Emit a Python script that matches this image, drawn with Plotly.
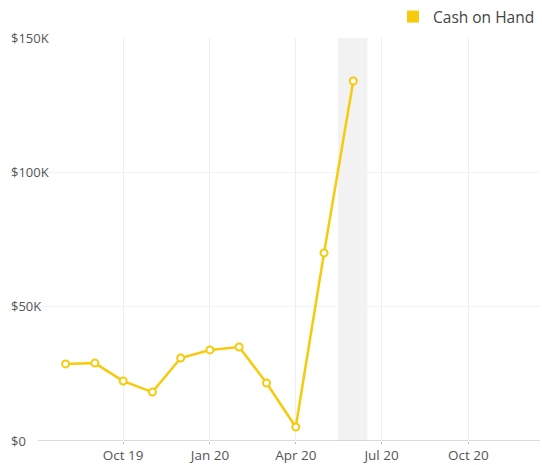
import plotly.graph_objects as go

months = ["2019-08-01", "2019-09-01", "2019-10-01", "2019-11-01", "2019-12-01",
          "2020-01-01", "2020-02-01", "2020-03-01", "2020-04-01", "2020-05-01", "2020-06-01"]
cash = [28700, 29000, 22300, 18200, 30900, 33900, 35000, 21600, 5200, 70000, 134000]

tick_vals = ["2019-10-01", "2020-01-01", "2020-04-01", "2020-07-01", "2020-10-01"]
tick_text = ["Oct 19", "Jan 20", "Apr 20", "Jul 20", "Oct 20"]
y_ticks = [0, 50000, 100000, 150000]
y_text = ["$0", "$50K", "$100K", "$150K"]

band = ["2020-05-16", "2020-06-16"]
x_range = ["2019-06-03", "2020-12-16"]

color = "#F5CB0C"
series_name = "Cash on Hand"

fig = go.Figure()
fig.add_trace(go.Scatter(
    x=months, y=cash, mode="lines+markers", name=series_name, showlegend=False,
    line=dict(color=color, width=2.5),
    marker=dict(symbol="circle", size=7, color="white", line=dict(color=color, width=2)),
))
# legend-only entry (square swatch)
fig.add_trace(go.Scatter(
    x=[None], y=[None], mode="markers", name=series_name,
    marker=dict(symbol="square", size=12, color=color),
))
fig.add_shape(type="rect", xref="x", yref="paper", x0=band[0], x1=band[1], y0=0, y1=1,
              fillcolor="#f2f2f2", line_width=0, layer="below")
fig.add_shape(type="line", xref="paper", yref="y", x0=28/530, x1=1, y0=0, y1=0,
              line=dict(color="#cfcfcf", width=1.5), layer="below")

fig.update_layout(
    width=542, height=465,
    margin=dict(l=10, r=2, t=38, b=24, autoexpand=False),
    paper_bgcolor="white", plot_bgcolor="white",
    font=dict(family="Open Sans, Arial, sans-serif", size=13, color="#555555"),
    showlegend=True,
    legend=dict(orientation="h", x=1, xanchor="right", y=1, yanchor="top",
                yref="container", font=dict(size=15.5, color="#444444"),
                itemsizing="constant", itemwidth=30, bgcolor="rgba(0,0,0,0)"),
    xaxis=dict(type="date", range=x_range, tickvals=tick_vals, ticktext=tick_text,
               tickfont=dict(size=13.5), automargin=False,
               showgrid=True, gridcolor="#eeeeee", gridwidth=1,
               ticks="outside", ticklen=2, tickcolor="#bbbbbb",
               showline=False, zeroline=False),
    yaxis=dict(range=[0, 150000], tickvals=y_ticks, ticktext=y_text,
               side="right", anchor="free", position=0, automargin=False,
               showgrid=True, gridcolor="#f3f3f3",
               zeroline=False, showline=False, ticks=""),
)
fig.write_html("out.html")
